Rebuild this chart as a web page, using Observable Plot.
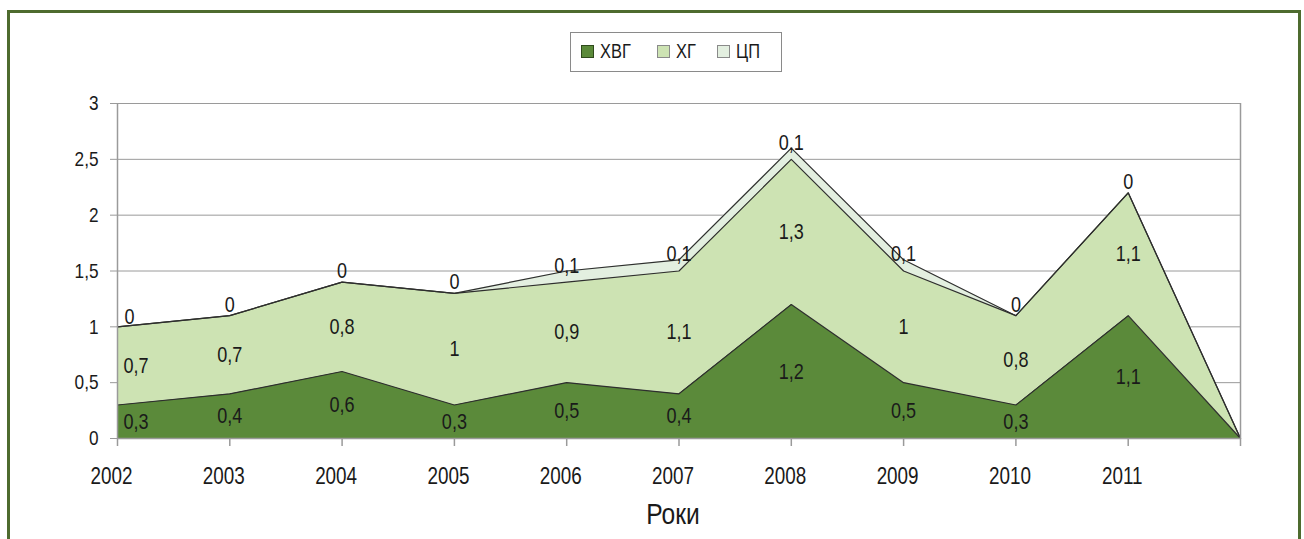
<!DOCTYPE html>
<html>
<head>
<meta charset="utf-8">
<script src="https://cdn.jsdelivr.net/npm/d3@7"></script>
<script src="https://cdn.jsdelivr.net/npm/@observablehq/plot@0.6"></script>
<style>
  html, body { margin: 0; padding: 0; background: #ffffff; }
  #wrap { position: relative; width: 1304px; height: 539px; overflow: hidden;
          font-family: "Liberation Sans", Arial, sans-serif; color: #1a1a1a; }
  #frame { position: absolute; left: 7px; top: 10px; width: 1288px; height: 580px; border: 3px solid #4e6b2f; box-sizing: content-box; }
  #legend { position: absolute; left: 570px; top: 32px; width: 212px; height: 40px; border: 1px solid #8a8a8a;
            box-sizing: border-box; background: #fff; z-index: 2; }
  .sw { position: absolute; top: 12px; width: 11px; height: 11px; border: 1px solid #555; }
  .lt { position: absolute; top: 7px; font-size: 20px; line-height: 22px; transform: scaleX(0.82); transform-origin: left center; white-space: nowrap; }
  #chart { position: absolute; left: 0; top: 0; }
  #xtitle { position: absolute; left: 573px; width: 200px; text-align: center; top: 497px; font-size: 30px; line-height: 34px; z-index: 2;
            transform: scaleX(0.82); transform-origin: center center; }
</style>
</head>
<body>
<div id="wrap">
  <div id="frame"></div>
  <div id="chart"></div>
  <div id="legend"></div>
  <div id="xtitle">Роки</div>
</div>
<script>
// ---- data ----
const years = [2002, 2003, 2004, 2005, 2006, 2007, 2008, 2009, 2010, 2011, 2012];
const xTickLabels = ["2002", "2003", "2004", "2005", "2006", "2007", "2008", "2009", "2010", "2011", ""];
const series = ["ХВГ", "ХГ", "ЦП"];
const hvg = [0.3, 0.4, 0.6, 0.3, 0.5, 0.4, 1.2, 0.5, 0.3, 1.1, 0];
const hg  = [0.7, 0.7, 0.8, 1.0, 0.9, 1.1, 1.3, 1.0, 0.8, 1.1, 0];
const cp  = [0,   0,   0,   0,   0.1, 0.1, 0.1, 0.1, 0,   0,   0];
const labelled = [true, true, true, true, true, true, true, true, true, true, false];
const yTicks = [0, 0.5, 1, 1.5, 2, 2.5, 3];
const yTickLabels = ["0", "0,5", "1", "1,5", "2", "2,5", "3"];
const colors = ["#5b8a3a", "#cde3b3", "#e3efe0"];

const values = [hvg, hg, cp];
const tidy = [];
series.forEach((s, i) => years.forEach((y, j) => tidy.push({year: y, series: s, value: values[i][j]})));

// label rows (midpoint of each band)
const labels = [];
years.forEach((y, j) => {
  if (!labelled[j]) return;
  let base = 0;
  series.forEach((s, i) => {
    const v = values[i][j];
    labels.push({year: y, series: s, first: j === 0, mid: base + v / 2, text: String(v).replace(".", ",")});
    base += v;
  });
});

const font = '"Liberation Sans", Arial, sans-serif';

const chart = Plot.plot({
  width: 1304,
  height: 539,
  marginLeft: 117,
  marginRight: 64,
  marginTop: 103,
  marginBottom: 101,
  style: {fontFamily: font, background: "transparent", color: "#1a1a1a", overflow: "visible"},
  x: {domain: [2002, 2012], axis: null},
  y: {domain: [0, 3], axis: null},
  color: {domain: series, range: colors},
  marks: [
    Plot.gridY(yTicks, {stroke: "#9a9a9a", strokeOpacity: 1, strokeWidth: 1}),
    Plot.areaY(tidy, {x: "year", y: "value", z: "series", fill: "series", order: series}),
    Plot.lineY(tidy, Plot.stackY2({x: "year", y: "value", z: "series", order: series, stroke: "#2e2e2e", strokeWidth: 1.2})),
    Plot.ruleX([2002, 2012], {stroke: "#9a9a9a", strokeWidth: 1.5}),
    Plot.ruleY([0], {stroke: "#9a9a9a", strokeWidth: 1.5}),
    Plot.axisY({ticks: yTicks, tickSize: 7, tickPadding: 12, label: null, tickFormat: d => yTickLabels[yTicks.indexOf(d)],
                fontSize: 21, stroke: "#9a9a9a", fill: "#1a1a1a"}),
    Plot.axisX({ticks: years, tickSize: 8, label: null, tickFormat: () => "", stroke: "#9a9a9a", strokeWidth: 1.5}),
    Plot.axisX({ticks: years, tickSize: 0, tickPadding: 29, dx: -6, label: null, tickFormat: d => xTickLabels[years.indexOf(d)],
                fontSize: 23, fill: "#1a1a1a"}),
    Plot.text(labels.filter(d => !d.first && d.series !== "ЦП"), {x: "year", y: "mid", text: "text", fontSize: 22, fill: "#1a1a1a"}),
    Plot.text(labels.filter(d => !d.first && d.series === "ЦП"), {x: "year", y: "mid", text: "text", dy: -11, fontSize: 22, fill: "#1a1a1a"}),
    Plot.text(labels.filter(d => d.first && d.series !== "ЦП"), {x: "year", y: "mid", text: "text", textAnchor: "start", dx: 6, fontSize: 22, fill: "#1a1a1a"}),
    Plot.text(labels.filter(d => d.first && d.series === "ЦП"), {x: "year", y: "mid", text: "text", textAnchor: "start", dx: 7, dy: -10, fontSize: 22, fill: "#1a1a1a"})
  ]
});
document.getElementById("chart").appendChild(chart);

// condense the glyphs (the reference uses a narrow face)
chart.querySelectorAll("text").forEach(t => {
  if (!t.textContent) return;
  const len = t.getComputedTextLength();
  if (len > 0) {
    t.setAttribute("textLength", (len * 0.82).toFixed(2));
    t.setAttribute("lengthAdjust", "spacingAndGlyphs");
  }
});

// legend
const legend = document.getElementById("legend");
const swLeft = [10, 86, 146];
const txLeft = [29, 105, 165];
series.forEach((s, i) => {
  const sw = document.createElement("div");
  sw.className = "sw";
  sw.style.left = swLeft[i] + "px";
  sw.style.background = colors[i];
  sw.style.borderColor = i === 0 ? "#2f4a1c" : "#8a8a8a";
  const t = document.createElement("div");
  t.className = "lt";
  t.style.left = txLeft[i] + "px";
  t.textContent = s;
  legend.appendChild(sw);
  legend.appendChild(t);
});
</script>
</body>
</html>
